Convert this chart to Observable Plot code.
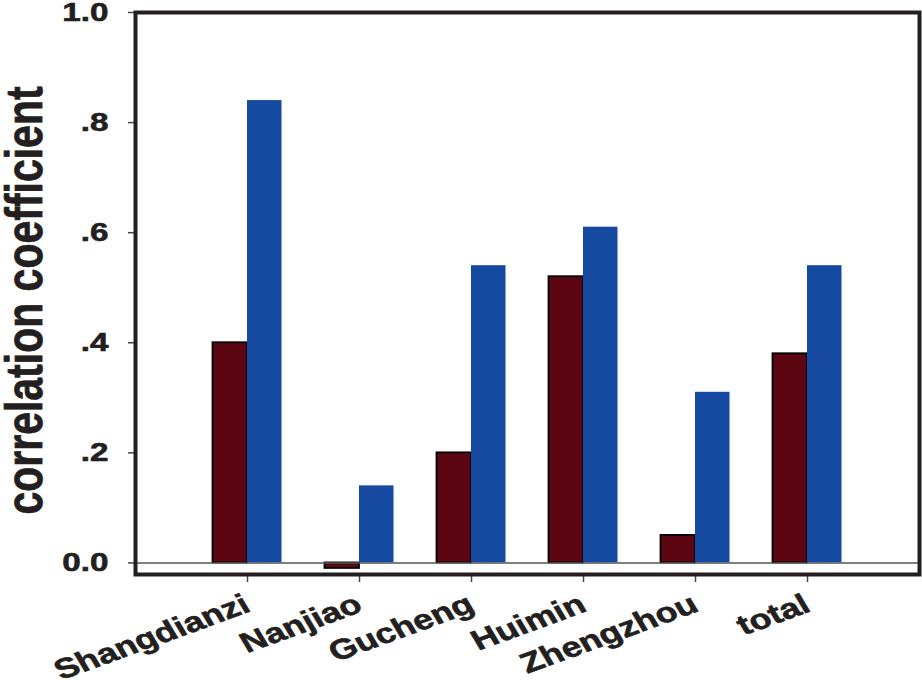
<!DOCTYPE html>
<html>
<head>
<meta charset="utf-8">
<script src="https://cdn.jsdelivr.net/npm/d3@7"></script>
<script src="https://cdn.jsdelivr.net/npm/@observablehq/plot@0.6"></script>
<style>
  html, body { margin: 0; padding: 0; background: #fff; }
  #chart svg { display: block; overflow: visible; }
</style>
</head>
<body>
<div id="chart"></div>
<script>
// ---- data ----
const categories = ["Shangdianzi", "Nanjiao", "Gucheng", "Huimin", "Zhengzhou", "total"];
const seriesA = [0.40, -0.01, 0.20, 0.52, 0.05, 0.38];   // dark red bars
const seriesB = [0.84, 0.14, 0.54, 0.61, 0.31, 0.54];   // blue bars
const yTicks = [0, 0.2, 0.4, 0.6, 0.8, 1.0];
const yTickLabels = ["0.0", ".2", ".4", ".6", ".8", "1.0"];
const yLabel = "correlation coefficient";

const rows = [];
categories.forEach((c, i) => {
  rows.push({cat: c, series: "A", value: seriesA[i]});
  rows.push({cat: c, series: "B", value: seriesB[i]});
});

// ---- layout ----
const W = 922, H = 680;
const mL = 135, mR = 3, mT = 12, mB = 106;
const padIn = 0.384, padOut = 0.692;
const step = (W - mL - mR) / (categories.length - padIn + 2 * padOut);
const bw = step * (1 - padIn);
const half = bw / 2;
const stretch = 1.28;
const font = "'Liberation Sans', Arial, Helvetica, sans-serif";

const chart = Plot.plot({
  width: W,
  height: H,
  marginLeft: mL,
  marginRight: mR,
  marginTop: mT,
  marginBottom: mB,
  style: {fontFamily: font, background: "#fff", color: "#231f20"},
  x: {domain: categories, paddingInner: padIn, paddingOuter: padOut, round: false, axis: null},
  y: {domain: [-0.021, 1], axis: null},
  marks: [
    Plot.barY(rows.filter(d => d.series === "A"), {
      x: "cat", y: "value", fill: "#5b0611", stroke: "#000", strokeWidth: 1.8, insetRight: half
    }),
    Plot.barY(rows.filter(d => d.series === "B"), {
      x: "cat", y: "value", fill: "#1649a0", insetLeft: half
    }),
    Plot.ruleY([0], {stroke: "#555", strokeWidth: 1.5}),
    Plot.axisY({
      ticks: yTicks,
      tickFormat: (d) => yTickLabels[yTicks.indexOf(d)],
      tickSize: 7, tickPadding: 20, fontSize: 26, fontWeight: "bold",
      stroke: "#444", strokeWidth: 1.5, label: null, fill: "#231f20"
    }),
    Plot.axisX({
      tickSize: 8, tickPadding: 20, tickRotate: -25, fontSize: 28, fontWeight: "bold",
      stroke: "#444", strokeWidth: 1.5, label: null, fill: "#231f20", dx: 0
    }),
    Plot.text([yLabel], {
      frameAnchor: "left", textAnchor: "middle", rotate: -90, dx: -110, dy: 7,
      fontSize: 41, fontWeight: "bold", fill: "#231f20"
    }),
    Plot.frame({stroke: "#231f20", strokeWidth: 4})
  ]
});

// widen and embolden glyphs, as in the reference
chart.querySelectorAll("text").forEach(t => {
  let tr = t.getAttribute("transform") || "";
  if (/translate\(/.test(tr)) {
    tr = tr.replace(/(translate\([^)]*\))/, `$1 scale(${stretch},1)`);
  } else {
    const x = t.getAttribute("x") || 0, y = t.getAttribute("y") || 0;
    tr = `translate(${x},${y}) scale(${stretch},1) ${tr}`;
    t.removeAttribute("x"); t.removeAttribute("y");
  }
  t.setAttribute("transform", tr);
  t.setAttribute("stroke", "#231f20");
  t.setAttribute("stroke-width", "0.6");
  t.setAttribute("paint-order", "stroke");
});

document.getElementById("chart").appendChild(chart);
</script>
</body>
</html>
